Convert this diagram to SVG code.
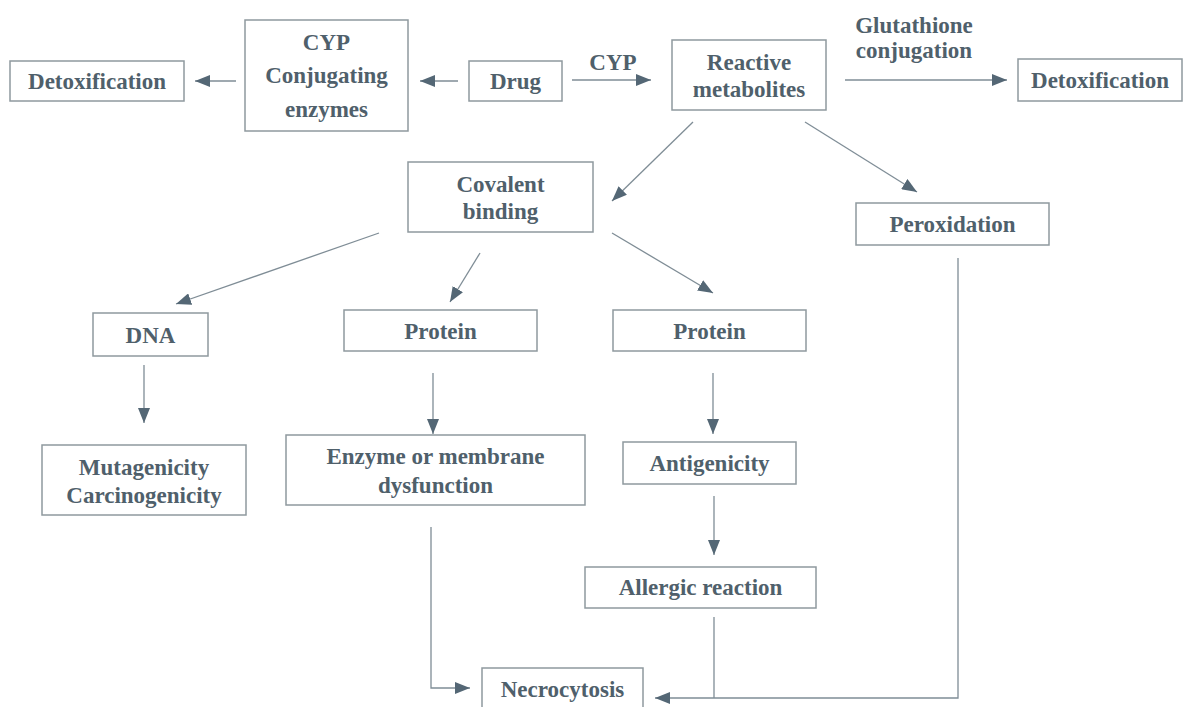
<svg xmlns="http://www.w3.org/2000/svg" width="1193" height="707" viewBox="0 0 1193 707">
<style>
.box{fill:#fff;stroke:#8f999e;stroke-width:1.5}
.t{font-family:"Liberation Serif","Times New Roman",serif;font-weight:bold;font-size:23px;fill:#4f606b;text-anchor:middle}
.c{fill:none;stroke:#7f8d96;stroke-width:1.3}
</style>
<defs>
<marker id="ah" markerUnits="userSpaceOnUse" markerWidth="16" markerHeight="12" refX="15" refY="6" orient="auto">
<path d="M0,0 L15,6 L0,12 z" fill="#546775"/>
</marker>
</defs>
<rect width="1193" height="707" fill="#fff"/>
<g id="connectors">
<line class="c" x1="236" y1="81" x2="195" y2="81" marker-end="url(#ah)"/>
<line class="c" x1="458" y1="81" x2="420" y2="81" marker-end="url(#ah)"/>
<line class="c" x1="572" y1="80" x2="651" y2="80" marker-end="url(#ah)"/>
<line class="c" x1="845" y1="80" x2="1007" y2="80" marker-end="url(#ah)"/>
<line class="c" x1="693" y1="122" x2="612" y2="201" marker-end="url(#ah)"/>
<line class="c" x1="805" y1="122" x2="917" y2="192" marker-end="url(#ah)"/>
<line class="c" x1="379" y1="233" x2="176" y2="304" marker-end="url(#ah)"/>
<line class="c" x1="480" y1="253" x2="450" y2="302" marker-end="url(#ah)"/>
<line class="c" x1="612" y1="233" x2="713" y2="293" marker-end="url(#ah)"/>
<line class="c" x1="144" y1="365" x2="144" y2="423" marker-end="url(#ah)"/>
<line class="c" x1="433" y1="373" x2="433" y2="434" marker-end="url(#ah)"/>
<line class="c" x1="713" y1="373" x2="713" y2="434" marker-end="url(#ah)"/>
<line class="c" x1="714" y1="496" x2="714" y2="555" marker-end="url(#ah)"/>
<polyline class="c" points="431,527 431,688 470,688" marker-end="url(#ah)"/>
<line class="c" x1="714" y1="617" x2="714" y2="698"/>
<polyline class="c" points="958,258 958,698 655,698" marker-end="url(#ah)"/>
<text class="t" x="613" y="70">CYP</text>
<text class="t" x="914" y="33">Glutathione</text>
<text class="t" x="914" y="58">conjugation</text>
</g>
<g id="detox-left"><rect class="box" x="10" y="61" width="174" height="40"/><text class="t" x="97" y="89">Detoxification</text></g>
<g id="cyp-conj"><rect class="box" x="245" y="20" width="163" height="111"/><text class="t" x="326.5" y="50">CYP</text><text class="t" x="326.5" y="83">Conjugating</text><text class="t" x="326.5" y="117">enzymes</text></g>
<g id="drug"><rect class="box" x="469" y="61" width="93" height="40"/><text class="t" x="515.5" y="89">Drug</text></g>
<g id="reactive"><rect class="box" x="672" y="40" width="154" height="70"/><text class="t" x="749" y="70">Reactive</text><text class="t" x="749" y="97">metabolites</text></g>
<g id="detox-right"><rect class="box" x="1018" y="59" width="164" height="42"/><text class="t" x="1100" y="88">Detoxification</text></g>
<g id="covalent"><rect class="box" x="408" y="162" width="185" height="70"/><text class="t" x="500.5" y="192">Covalent</text><text class="t" x="500.5" y="219">binding</text></g>
<g id="peroxidation"><rect class="box" x="856" y="203" width="193" height="42"/><text class="t" x="952.5" y="232">Peroxidation</text></g>
<g id="dna"><rect class="box" x="93" y="313" width="115" height="43"/><text class="t" x="150.5" y="343">DNA</text></g>
<g id="protein1"><rect class="box" x="344" y="310" width="193" height="41"/><text class="t" x="440.5" y="339">Protein</text></g>
<g id="protein2"><rect class="box" x="613" y="310" width="193" height="41"/><text class="t" x="709.5" y="339">Protein</text></g>
<g id="mutagenicity"><rect class="box" x="42" y="445" width="204" height="70"/><text class="t" x="144" y="475">Mutagenicity</text><text class="t" x="144" y="503">Carcinogenicity</text></g>
<g id="enzyme"><rect class="box" x="286" y="435" width="299" height="70"/><text class="t" x="435.5" y="464">Enzyme or membrane</text><text class="t" x="435.5" y="493">dysfunction</text></g>
<g id="antigenicity"><rect class="box" x="623" y="442" width="173" height="42"/><text class="t" x="709.5" y="471">Antigenicity</text></g>
<g id="allergic"><rect class="box" x="585" y="567" width="231" height="41"/><text class="t" x="700.5" y="595">Allergic reaction</text></g>
<g id="necrocytosis"><rect class="box" x="482" y="668" width="161" height="45"/><text class="t" x="562.5" y="697">Necrocytosis</text></g>
</svg>
